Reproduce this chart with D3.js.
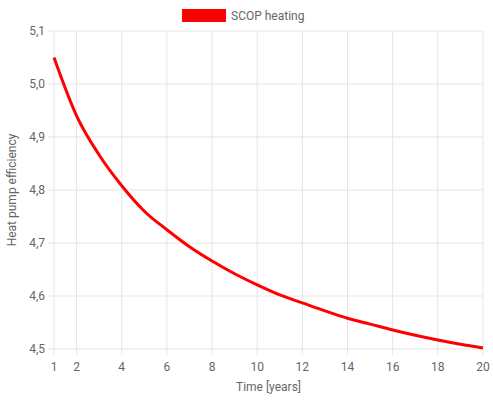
<!DOCTYPE html>
<html><head><meta charset="utf-8">
<script src="https://cdn.jsdelivr.net/npm/d3@7"></script>
<style>body{margin:0;background:#fff}text{font-family:Roboto,"Helvetica Neue",Arial,sans-serif}</style>
</head><body><svg id="c" width="493" height="400"></svg>
<script>
const years=[1,2,3,4,5,6,7,8,9,10,11,12,13,14,15,16,17,18,19,20];
const scop=[5.05,4.94,4.866,4.808,4.76,4.725,4.693,4.666,4.642,4.621,4.602,4.587,4.572,4.558,4.547,4.536,4.526,4.517,4.509,4.502];
const xTicks=[1,2,4,6,8,10,12,14,16,18,20];
const yTicks=[4.5,4.6,4.7,4.8,4.9,5.0,5.1];
const svg=d3.select("#c");
const L=54,R=483,T=31,B=349;
const x=d3.scaleLinear().domain([1,20]).range([L,R]);
const y=d3.scaleLinear().domain([4.5,5.1]).range([B,T]);
const fmt=v=>v.toFixed(1).replace(".",",");
const g=svg.append("g");
xTicks.forEach(t=>{g.append("line").attr("x1",x(t)).attr("x2",x(t)).attr("y1",T).attr("y2",B+6).attr("stroke","#e5e5e5");
 g.append("text").attr("x",x(t)).attr("y",B+22).attr("text-anchor","middle").attr("font-size",12).attr("fill","#666").text(t);});
yTicks.forEach(t=>{g.append("line").attr("x1",L-6).attr("x2",R).attr("y1",y(t)).attr("y2",y(t)).attr("stroke","#e5e5e5");
 g.append("text").attr("x",L-9).attr("y",y(t)+4).attr("text-anchor","end").attr("font-size",12).attr("fill","#666").text(fmt(t));});
svg.append("path").datum(years.map((d,i)=>[d,scop[i]])).attr("fill","none").attr("stroke","#ff0000").attr("stroke-width",3)
 .attr("d",d3.line().x(d=>x(d[0])).y(d=>y(d[1])).curve(d3.curveMonotoneX));
svg.append("text").attr("x",(L+R)/2).attr("y",391).attr("text-anchor","middle").attr("font-size",12).attr("fill","#666").text("Time [years]");
svg.append("text").attr("transform",`translate(16,${(T+B)/2}) rotate(-90)`).attr("text-anchor","middle").attr("font-size",12).attr("fill","#666").text("Heat pump efficiency");
svg.append("rect").attr("x",182).attr("y",9).attr("width",44).attr("height",13).attr("fill","#ff0000");
svg.append("text").attr("x",231).attr("y",20).attr("font-size",12).attr("fill","#666").text("SCOP heating");
</script></body></html>
